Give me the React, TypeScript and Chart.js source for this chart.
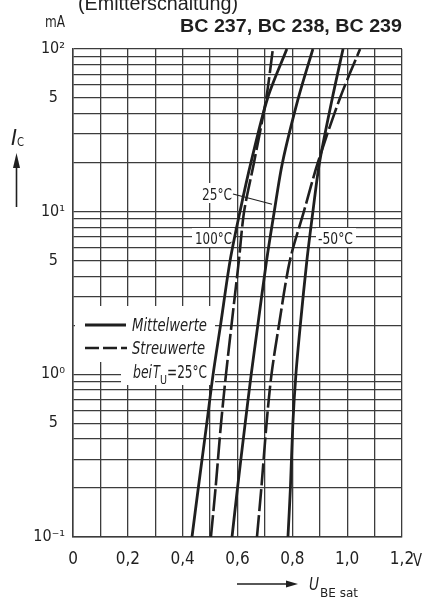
import React, { useEffect, useRef } from 'react';
import { Chart, registerables } from 'chart.js';

Chart.register(...registerables);

// ---- data (I_C in mA, U_BE sat in V) ----
const currentsMA = [0.1, 0.2, 0.5, 1, 2, 5, 10, 20, 50, 100];
const ubeAt100C = [0.434, 0.457, 0.488, 0.511, 0.538, 0.573, 0.609, 0.649, 0.71, 0.78];
const ubeAt25C = [0.58, 0.6, 0.628, 0.65, 0.674, 0.706, 0.734, 0.764, 0.822, 0.875];
const ubeAtMinus50C = [0.784, 0.793, 0.802, 0.813, 0.829, 0.853, 0.875, 0.899, 0.946, 0.985];
const ubeSpreadLow25C = [0.503, 0.52, 0.54, 0.558, 0.578, 0.605, 0.624, 0.66, 0.705, 0.729];
const ubeSpreadHigh25C = [0.671, 0.687, 0.706, 0.724, 0.751, 0.791, 0.842, 0.893, 0.974, 1.047];

// ---- ticks ----
const xGridValues = [0, 0.1, 0.2, 0.3, 0.4, 0.5, 0.6, 0.7, 0.8, 0.9, 1.0, 1.1, 1.2];
const xTickLabels = ['0', '', '0,2', '', '0,4', '', '0,6', '', '0,8', '', '1,0', '', '1,2'];
const yGridValues = [
  0.1, 0.2, 0.3, 0.4, 0.5, 0.6, 0.7, 0.8, 0.9,
  1, 2, 3, 4, 5, 6, 7, 8, 9,
  10, 20, 30, 40, 50, 60, 70, 80, 90, 100,
];
const yLabelValues = [0.1, 0.5, 1, 5, 10, 50, 100];
const yTickLabels = ['10⁻¹', '5', '10⁰', '5', '10¹', '5', '10²'];

const curveLabels = ['25°C', '100°C', '-50°C'];
const legendLabels = ['Mittelwerte', 'Streuwerte'];

const NARROW = '"Liberation Sans Narrow", "DejaVu Sans Condensed", "Liberation Sans", Arial, sans-serif';
const REGULAR = '"Liberation Sans", Arial, sans-serif';
const INK = '#1f1f1f';
const GRID = '#3c3c3c';

function fitText(ctx: any, text: string, x: number, y: number, w: number, font: string) {
  ctx.save();
  ctx.font = font;
  ctx.textAlign = 'left';
  ctx.textBaseline = 'alphabetic';
  const m = ctx.measureText(text).width || 1;
  ctx.translate(x, y);
  ctx.scale(w / m, 1);
  ctx.fillText(text, 0, 0);
  ctx.restore();
}

const overlayPlugin = {
  id: 'overlay',
  beforeDatasetsDraw(chart: any) {
    const ctx = chart.ctx;
    ctx.save();
    ctx.fillStyle = '#ffffff';
    // legend background
    ctx.fillRect(75, 306, 140, 56);
    ctx.fillRect(121, 362, 94, 23);
    // curve label backgrounds
    ctx.fillRect(199, 183, 36, 20);
    ctx.fillRect(192, 228, 42, 19);
    ctx.fillRect(316, 228, 40, 19);
    ctx.restore();
  },
  afterDraw(chart: any) {
    const ctx = chart.ctx;
    const xs = chart.scales.x;
    const ys = chart.scales.y;
    ctx.save();
    ctx.fillStyle = INK;
    ctx.strokeStyle = INK;

    // header texts
    fitText(ctx, '(Emitterschaltung)', 78, 10, 160, `20px ${REGULAR}`);
    fitText(ctx, 'mA', 45, 27, 20, `16px ${NARROW}`);
    fitText(ctx, 'BC 237, BC 238, BC 239', 180, 32, 222, `bold 19px ${REGULAR}`);

    // unit after last x tick
    fitText(ctx, 'V', 413, 566, 9, `17px ${NARROW}`);

    // y axis title with arrow
    fitText(ctx, 'I', 11, 145, 6, `italic 22px ${NARROW}`);
    fitText(ctx, 'C', 17, 146, 7, `12px ${NARROW}`);
    ctx.lineWidth = 1.6;
    ctx.beginPath();
    ctx.moveTo(16.5, 207);
    ctx.lineTo(16.5, 165);
    ctx.stroke();
    ctx.beginPath();
    ctx.moveTo(13, 168);
    ctx.lineTo(16.5, 153);
    ctx.lineTo(20, 168);
    ctx.closePath();
    ctx.fill();

    // x axis title with arrow
    ctx.beginPath();
    ctx.moveTo(237, 584);
    ctx.lineTo(288, 584);
    ctx.stroke();
    ctx.beginPath();
    ctx.moveTo(286, 580.5);
    ctx.lineTo(298, 584);
    ctx.lineTo(286, 587.5);
    ctx.closePath();
    ctx.fill();
    fitText(ctx, 'U', 309, 590, 10, `italic 17px ${NARROW}`);
    fitText(ctx, 'BE sat', 320, 597, 38, `13px ${NARROW}`);

    // legend
    ctx.lineWidth = 2.8;
    ctx.beginPath();
    ctx.moveTo(85, 325);
    ctx.lineTo(126, 325);
    ctx.stroke();
    ctx.setLineDash([14, 4]);
    ctx.lineWidth = 2.6;
    ctx.beginPath();
    ctx.moveTo(85, 348);
    ctx.lineTo(127, 348);
    ctx.stroke();
    ctx.setLineDash([]);
    fitText(ctx, legendLabels[0], 132, 331, 75, `italic 18px ${NARROW}`);
    fitText(ctx, legendLabels[1], 132, 354, 73, `italic 18px ${NARROW}`);
    fitText(ctx, 'bei', 133, 378, 19, `italic 17px ${NARROW}`);
    fitText(ctx, 'T', 153, 378, 7, `italic 17px ${NARROW}`);
    fitText(ctx, 'U', 160, 384, 7, `12px ${NARROW}`);
    fitText(ctx, '=25°C', 167, 378, 40, `17px ${NARROW}`);

    // curve labels
    fitText(ctx, curveLabels[0], 202, 200, 30, `16px ${NARROW}`);
    fitText(ctx, curveLabels[1], 195, 244, 37, `16px ${NARROW}`);
    fitText(ctx, curveLabels[2], 318, 244, 35, `16px ${NARROW}`);

    // leader from 25°C label to the 25°C curve
    ctx.lineWidth = 1.2;
    ctx.beginPath();
    ctx.moveTo(233, 194);
    ctx.lineTo(xs.getPixelForValue(0.726), ys.getPixelForValue(11.1));
    ctx.stroke();

    ctx.restore();
  },
};

function makeSeries(values: number[]) {
  return currentsMA.map((c, i) => ({ x: values[i], y: c }));
}

export default function App() {
  const canvasRef = useRef<HTMLCanvasElement | null>(null);

  useEffect(() => {
    document.body.style.margin = '0';
    const canvas = canvasRef.current;
    if (!canvas) return;

    const solid = { borderColor: INK, borderWidth: 2.8, pointRadius: 0, tension: 0.3, fill: false };
    const dashed = { ...solid, borderWidth: 2.6, borderDash: [22, 4] };

    const chart = new Chart(canvas, {
      type: 'line',
      data: {
        datasets: [
          { label: '100°C', data: makeSeries(ubeAt100C), ...solid },
          { label: '25°C', data: makeSeries(ubeAt25C), ...solid },
          { label: '-50°C', data: makeSeries(ubeAtMinus50C), ...solid },
          { label: 'Streuwerte min', data: makeSeries(ubeSpreadLow25C), ...dashed },
          { label: 'Streuwerte max', data: makeSeries(ubeSpreadHigh25C), ...dashed },
        ] as any,
      },
      options: {
        responsive: false,
        animation: false,
        events: [],
        layout: { padding: { top: 49, right: 27, left: 0, bottom: 0 } },
        plugins: { legend: { display: false }, tooltip: { enabled: false }, title: { display: false } },
        scales: {
          x: {
            type: 'linear',
            min: 0,
            max: 1.2,
            afterBuildTicks: (s: any) => {
              s.ticks = xGridValues.map((v) => ({ value: v }));
            },
            afterFit: (s: any) => {
              s.height = 63;
            },
            grid: { color: GRID, lineWidth: 1.3, drawTicks: false },
            border: { color: GRID, width: 1.5 },
            ticks: {
              autoSkip: false,
              maxRotation: 0,
              padding: 12,
              color: INK,
              font: { family: NARROW, size: 17 },
              callback: (_v: any, i: number) => xTickLabels[i] ?? '',
            },
          },
          y: {
            type: 'logarithmic',
            min: 0.1,
            max: 100,
            afterBuildTicks: (s: any) => {
              s.ticks = yGridValues.map((v) => ({ value: v }));
            },
            afterFit: (s: any) => {
              s.width = 73;
            },
            grid: { color: GRID, lineWidth: 1.3, drawTicks: false },
            border: { color: GRID, width: 1.5 },
            ticks: {
              autoSkip: false,
              padding: 8,
              color: INK,
              font: { family: NARROW, size: 16 },
              callback: (v: any) => {
                const val = Number(v);
                const i = yLabelValues.findIndex((t) => Math.abs(t - val) / t < 1e-6);
                if (i < 0) return '';
                const t = yTickLabels[i];
                return t.startsWith('10') ? t : t + '\u2002';
              },
            },
          },
        },
      } as any,
      plugins: [overlayPlugin],
    });

    return () => {
      chart.destroy();
    };
  }, []);

  return (
    <div style={{ width: 429, height: 600, position: 'relative', background: '#fff' }}>
      <canvas ref={canvasRef} width={429} height={600} style={{ width: 429, height: 600, display: 'block' }} />
    </div>
  );
}
